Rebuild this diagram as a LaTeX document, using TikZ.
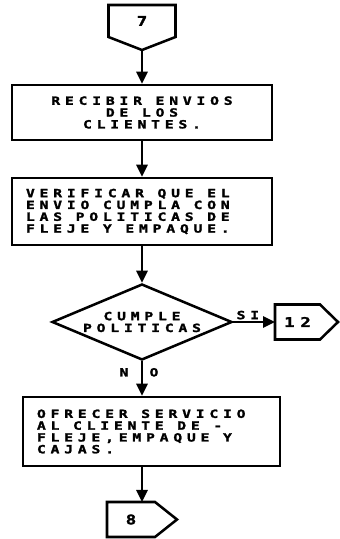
\documentclass[tikz,border=0pt]{standalone}
\usepackage{fontspec}
\newfontfamily\dotfont[FakeStretch=1.3, FakeBold=2, LetterSpace=43]{DejaVu Sans Mono Bold}
\newcommand{\flowfont}{\dotfont\fontsize{8}{8.4}\selectfont}
\newcommand{\numfont}{\dotfont\fontsize{9.5}{10}\selectfont}
\usetikzlibrary{arrows.meta, positioning, shapes.geometric, calc}

\begin{document}
\begin{tikzpicture}[
  line width=1.8pt,
  wide/.style={execute at begin node={\spaceskip=9.7pt\relax}},
  box/.style={draw, inner xsep=0.35cm, inner ysep=0pt, font=\flowfont, wide},
  dec/.style={diamond, draw, aspect=2.4, inner sep=0pt, align=center, font=\flowfont, wide},
  conn/.style={inner sep=0pt, outer sep=0pt, font=\numfont},
  flow/.style={-{Triangle[length=3mm, width=2.8mm]}},
  lbl/.style={font=\flowfont, inner sep=1pt}
]
\useasboundingbox (0,0) rectangle (8.475,13.475);

% Connector in
\node[conn, minimum width=1.675cm, minimum height=0.8cm] (c7) at (3.55,12.95) {7};
\draw (c7.north west) -- (c7.north east) -- (c7.south east)
  -- ($(c7.south)+(0,-0.325)$) coordinate (c7tip) -- (c7.south west) -- cycle;

% Receive
\node[box, text width=5.8cm, align=center, minimum height=1.375cm] (b1) at (3.55,10.6625)
  {RECIBIR ENVIOS\\DE LOS\\CLIENTES.};
\draw[flow] (c7tip) -- (b1.north);

% Check
\node[box, text width=5.8cm, align=left, minimum height=1.675cm] (b2) at (3.55,8.1875)
  {VERIFICAR QUE EL\\ENVIO CUMPLA CON\\LAS POLITICAS DE\\FLEJE Y EMPAQUE.};
\draw[flow] (b1) -- (b2);

% Decision
\node[dec, minimum width=4.5cm, minimum height=1.9cm] (d) at (3.55,5.425) {CUMPLE\\POLITICAS};
\draw[flow] (b2) -- (d);

% Yes -> 12
\node[conn, minimum width=1.125cm, minimum height=0.875cm] (c12) at (7.4375,5.425) {12};
\draw (c12.north west) -- (c12.north east) -- ($(c12.east)+(0.45,0)$)
  -- (c12.south east) -- (c12.south west) -- cycle;
\draw[flow] (d.east) -- node[lbl, above, pos=0.35] {SI} (c12.west);

% No
\node[box, text width=5.725cm, align=left, minimum height=1.725cm] (b3) at (3.7875,2.6875)
  {OFRECER SERVICIO\\AL CLIENTE DE -\\FLEJE,EMPAQUE Y\\CAJAS.};
\draw[flow] (d.south) -- node[lbl, pos=0.32, xshift=-0.45cm] {N}
  node[lbl, pos=0.32, xshift=0.3cm] {O} (d.south |- b3.north);

% Connector out
\node[conn, minimum width=1.2cm, minimum height=0.875cm] (c8) at (3.275,0.4875) {8};
\draw (c8.north west) -- (c8.north east) -- ($(c8.east)+(0.55,0)$)
  -- (c8.south east) -- (c8.south west) -- cycle;
\draw[flow] (d.south |- b3.south) -- (d.south |- c8.north);

\end{tikzpicture}
\end{document}
